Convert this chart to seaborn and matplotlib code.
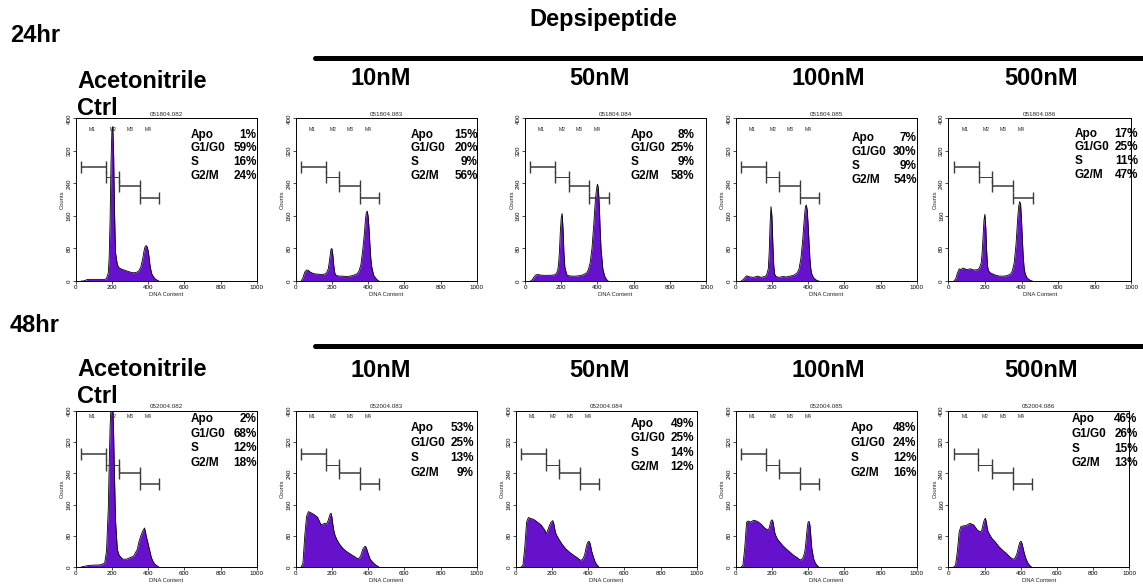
import matplotlib
matplotlib.use("Agg")
import matplotlib.pyplot as plt
from matplotlib.lines import Line2D
import seaborn as sns
import pandas as pd

# ---------------- data ----------------
conditions = ["Acetonitrile\nCtrl", "10nM", "50nM", "100nM", "500nM"]
timepoints = ["24hr", "48hr"]
sample_ids_24 = ["051804.082", "051804.083", "051804.084", "051804.085", "051804.086"]
sample_ids_48 = ["052004.082", "052004.083", "052004.084", "052004.085", "052004.086"]

stat_labels = ["Apo", "G1/G0", "S", "G2/M"]
apo_24 = [1, 15, 8, 7, 17]
g1_24 = [59, 20, 25, 30, 25]
s_24 = [16, 9, 9, 9, 11]
g2_24 = [24, 56, 58, 54, 47]
apo_48 = [2, 53, 49, 48, 46]
g1_48 = [68, 25, 25, 24, 26]
s_48 = [12, 13, 14, 12, 15]
g2_48 = [18, 9, 12, 16, 13]

dna = [30, 40, 50, 60, 70, 80, 100, 120, 140, 160,
       170, 180, 185, 190, 195, 200, 205, 210, 215, 220,
       230, 240, 260, 280, 300, 320, 340, 350, 360, 370,
       380, 385, 390, 395, 400, 405, 410, 415, 420, 430,
       440, 450, 460]

c24_ctrl = [0, 0, 1, 3, 4, 4, 4, 4, 4, 4, 6, 20, 60, 150, 290, 370, 380, 300, 160, 70,
            40, 32, 28, 25, 22, 20, 22, 26, 35, 55, 80, 86, 87, 84, 75, 60, 40, 28, 18, 10, 5, 2, 0]
c24_10 = [0, 8, 22, 27, 26, 22, 18, 17, 16, 17, 20, 30, 45, 62, 78, 80, 65, 40, 22, 15,
          13, 12, 12, 11, 12, 14, 18, 25, 40, 75, 120, 150, 168, 172, 160, 130, 90, 55, 35, 15, 8, 3, 0]
c24_50 = [0, 3, 10, 15, 16, 15, 14, 14, 14, 15, 17, 25, 40, 70, 120, 155, 166, 130, 70, 35,
          16, 13, 12, 12, 13, 15, 20, 28, 45, 80, 140, 175, 205, 225, 238, 230, 190, 130, 80, 30, 12, 4, 0]
c24_100 = [0, 3, 8, 13, 11, 10, 9, 12, 9, 11, 14, 30, 70, 140, 183, 160, 95, 40, 18, 12,
           10, 9, 11, 10, 12, 14, 20, 30, 55, 100, 160, 182, 187, 175, 140, 95, 55, 30, 18, 8, 4, 1, 0]
c24_500 = [0, 5, 20, 30, 28, 32, 28, 30, 27, 28, 32, 45, 70, 110, 150, 164, 130, 70, 35, 25,
           20, 18, 14, 12, 12, 13, 17, 25, 45, 90, 160, 185, 195, 190, 150, 100, 55, 30, 18, 8, 4, 1, 0]
c48_ctrl = [0, 1, 2, 3, 4, 4, 5, 5, 6, 10, 40, 150, 260, 360, 410, 430, 420, 330, 220, 120,
            45, 30, 20, 20, 24, 28, 45, 66, 80, 92, 100, 92, 78, 70, 60, 50, 40, 30, 22, 12, 6, 3, 0]
c48_10 = [0, 10, 80, 130, 142, 140, 135, 128, 108, 112, 110, 120, 128, 135, 138, 128, 110, 95, 85, 78,
          68, 60, 48, 40, 34, 28, 22, 22, 30, 45, 52, 53, 50, 42, 35, 28, 22, 18, 15, 10, 6, 3, 0]
c48_50 = [0, 5, 50, 115, 127, 125, 122, 115, 108, 95, 85, 98, 105, 110, 115, 117, 119, 112, 100, 88,
          78, 70, 56, 45, 37, 30, 24, 20, 17, 20, 30, 40, 52, 60, 65, 66, 62, 52, 40, 25, 12, 5, 0]
c48_100 = [0, 5, 50, 115, 118, 115, 120, 117, 110, 100, 97, 95, 100, 110, 118, 121, 118, 105, 90, 82,
           72, 66, 55, 46, 38, 30, 24, 20, 18, 22, 35, 50, 75, 100, 115, 117, 108, 80, 50, 22, 10, 4, 0]
c48_500 = [0, 5, 40, 90, 104, 105, 107, 112, 108, 95, 92, 90, 95, 105, 115, 122, 125, 115, 100, 90,
           82, 74, 64, 52, 43, 35, 26, 22, 20, 24, 35, 45, 55, 63, 66, 64, 55, 45, 35, 20, 10, 4, 0]

gate_names = ["M1", "M2", "M3", "M4"]
gate_start = [30, 166, 241, 355]
gate_end = [166, 241, 355, 462]
gate_y_24 = [280, 256, 234, 204]
gate_y_48 = [290, 262, 242, 212]
gate_label_x = [90, 205, 300, 400]

x_ticks = [0, 200, 400, 600, 800, 1000]
y_ticks = [0, 80, 160, 240, 320, 400]

# ---------------- style / layout ----------------
sns.set_theme(style="white")
plt.rcParams["font.family"] = ["Liberation Sans", "DejaVu Sans"]

PURPLE = "#6612CC"
W, H = 1143, 587
fig = plt.figure(figsize=(W / 100, H / 100), dpi=100)


def fx(x):
    return x / W


def fy(y):
    return 1 - y / H


rows = [
    dict(top=118.3, bottom=281, lefts=[75.7, 295.7, 525, 735.7, 948.3], widths=[181, 181, 181, 181, 183],
         curves=[c24_ctrl, c24_10, c24_50, c24_100, c24_500], ids=sample_ids_24,
         stats=[apo_24, g1_24, s_24, g2_24], gate_y=gate_y_24, mlab_y=0.93,
         sx0=[0.637, 0.637, 0.585, 0.64, 0.69], sx1=[1.0, 1.007, 0.935, 1.0, 1.037],
         sy0=[0.90, 0.90, 0.90, 0.88, 0.905], sdy=[0.084, 0.084, 0.084, 0.087, 0.084]),
    dict(top=411, bottom=567, lefts=[75.7, 295.7, 515.7, 735.7, 948.3], widths=[181] * 5,
         curves=[c48_ctrl, c48_10, c48_50, c48_100, c48_500], ids=sample_ids_48,
         stats=[apo_48, g1_48, s_48, g2_48], gate_y=gate_y_48, mlab_y=0.965,
         sx0=[0.637, 0.637, 0.637, 0.637, 0.68], sx1=[1.0, 0.985, 0.985, 0.998, 1.045],
         sy0=[0.947, 0.889, 0.915, 0.889, 0.949], sdy=[0.093, 0.096, 0.091, 0.095, 0.095]),
]

for r in rows:
    for i in range(5):
        left, w = r["lefts"][i], r["widths"][i]
        ax = fig.add_axes([fx(left), fy(r["bottom"]), w / W, (r["bottom"] - r["top"]) / H])
        counts = r["curves"][i]
        df = pd.DataFrame({"DNA Content": dna, "Counts": counts})
        ax.fill_between(dna, 0, counts, color=PURPLE, lw=0)
        sns.lineplot(data=df, x="DNA Content", y="Counts", ax=ax, color="black", lw=0.6)
        ax.set_xlim(0, 1000)
        ax.set_ylim(0, 400)
        ax.set_xticks(x_ticks)
        ax.set_yticks(y_ticks)
        ax.set_xticklabels([str(t) for t in x_ticks], fontsize=4.5)
        ax.set_yticklabels([str(t) for t in y_ticks], fontsize=4.5, rotation=90, va="center")
        ax.tick_params(bottom=True, left=True, length=2, width=0.5, pad=1, colors="black")
        for sp in ax.spines.values():
            sp.set_color("black")
            sp.set_linewidth(0.7)
        ax.set_xlabel("DNA Content", fontsize=4.2, labelpad=1)
        ax.set_ylabel("Counts", fontsize=4.2, labelpad=1)
        ax.set_title(r["ids"][i], fontsize=4.5, pad=2)
        ax.grid(False)
        # gates
        for k in range(4):
            cx = (gate_start[k] + gate_end[k]) / 2
            hw = (gate_end[k] - gate_start[k]) / 2
            lw = 0.7 if k == 1 else 1.1
            ax.errorbar(cx, r["gate_y"][k], xerr=hw, fmt="none", ecolor="#3a3a3a",
                        elinewidth=lw, capsize=4.3, capthick=1.0)
            ax.text(gate_label_x[k], r["mlab_y"] * 400, gate_names[k], fontsize=3.6,
                    ha="center", va="center", color="#222222")
        # stats
        for k in range(4):
            yy = r["sy0"][i] - k * r["sdy"][i]
            ax.text(r["sx0"][i], yy, stat_labels[k], transform=ax.transAxes, fontsize=8.5,
                    weight="bold", ha="left", va="center", color="black")
            ax.text(r["sx1"][i], yy, f"{r['stats'][k][i]}%", transform=ax.transAxes, fontsize=8.5,
                    weight="bold", ha="right", va="center", color="black")

# ---------------- header texts ----------------
big = dict(fontsize=17, weight="bold", color="black")
fig.text(fx(10), fy(42), timepoints[0], va="baseline", ha="left", **big)
fig.text(fx(603), fy(26), "Depsipeptide", va="baseline", ha="center", **big)
fig.add_artist(Line2D([fx(315), fx(1143)], [fy(57.5), fy(57.5)], lw=3.6, color="black"))
fig.add_artist(Line2D([fx(315), fx(1143)], [fy(345.5), fy(345.5)], lw=3.6, color="black"))
fig.text(fx(10), fy(332), timepoints[1], va="baseline", ha="left", **big)

conc_x = [381, 600, 828, 1041]
for base_row, (b_ctrl1, b_ctrl2, b_conc) in enumerate([(88, 115, 85), (376, 403, 377)]):
    line1, line2 = conditions[0].split("\n")
    fig.text(fx(77), fy(b_ctrl1), line1, va="baseline", ha="left", **big)
    fig.text(fx(77), fy(b_ctrl2), line2, va="baseline", ha="left", **big)
    for j, lab in enumerate(conditions[1:]):
        fig.text(fx(conc_x[j]), fy(b_conc), lab, va="baseline", ha="center", **big)

fig.savefig("out.png", dpi=100)
